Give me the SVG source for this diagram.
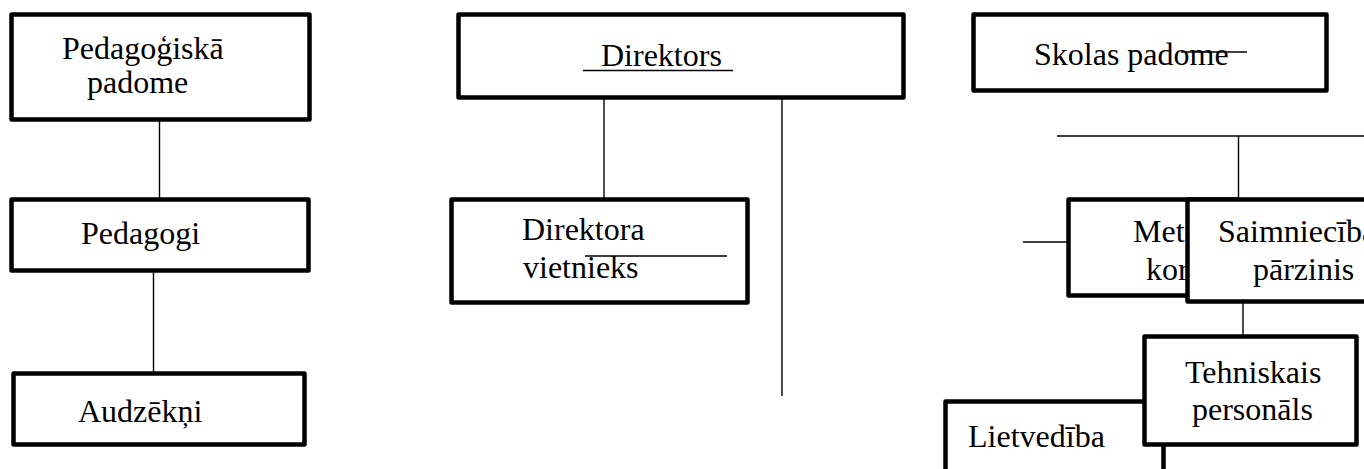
<svg xmlns="http://www.w3.org/2000/svg" width="1364" height="469" viewBox="0 0 1364 469">
<style>
.box{fill:#fff;stroke:#000;stroke-width:4.5;stroke-linejoin:round}
.ln{stroke:#000;stroke-width:1.4;fill:none}
text{font-family:"Liberation Serif","Times New Roman",serif;font-size:32px;fill:#000}
</style>
<rect width="1364" height="469" fill="#fff"/>
<g id="connectors">
<line class="ln" x1="159.5" y1="121" x2="159.5" y2="198"/>
<line class="ln" x1="153.5" y1="271" x2="153.5" y2="372"/>
<line class="ln" x1="604" y1="98" x2="604" y2="198"/>
<line class="ln" x1="782" y1="98" x2="782" y2="396"/>
<line class="ln" x1="1057" y1="136" x2="1364" y2="136"/>
<line class="ln" x1="1238.5" y1="136" x2="1238.5" y2="198"/>
<line class="ln" x1="1023" y1="242" x2="1068" y2="242"/>
<line class="ln" x1="1243" y1="302" x2="1243" y2="336"/>
</g>
<g id="n-pedagogiska">
<rect class="box" x="11.5" y="14.5" width="298" height="105"/>
<text x="62" y="59">Pedagoģiskā</text>
<text x="87" y="93">padome</text>
</g>
<g id="n-pedagogi">
<rect class="box" x="11.5" y="199.5" width="297" height="71"/>
<text x="81" y="244">Pedagogi</text>
</g>
<g id="n-audzekni">
<rect class="box" x="13.5" y="373.5" width="291" height="71"/>
<text x="78" y="422">Audzēkņi</text>
</g>
<g id="n-direktors">
<rect class="box" x="458.5" y="14.5" width="445" height="83"/>
<text x="601" y="66">Direktors</text>
<line class="ln" x1="583" y1="70.5" x2="733" y2="70.5"/>
</g>
<g id="n-vietnieks">
<rect class="box" x="451.5" y="199.5" width="296" height="103"/>
<text x="522" y="240">Direktora</text>
<text x="523" y="278">vietnieks</text>
<line class="ln" x1="585" y1="256" x2="727" y2="256"/>
</g>
<g id="n-skolas">
<rect class="box" x="973.5" y="14.5" width="353" height="76"/>
<text x="1034" y="65">Skolas padome</text>
<line class="ln" x1="1181" y1="52" x2="1247" y2="52"/>
</g>
<g id="n-metodiska">
<rect class="box" x="1068.5" y="199.5" width="170" height="96"/>
<text x="1133" y="242">Met</text>
<text x="1146" y="280">kor</text>
</g>
<g id="n-saimniecibas">
<rect class="box" x="1187.5" y="199.5" width="200" height="102"/>
<text x="1218" y="242">Saimniecība</text>
<text x="1253" y="280">pārzinis</text>
</g>
<g id="n-lietvediba">
<rect class="box" x="945.5" y="401.5" width="218" height="100"/>
<text x="968" y="447">Lietvedība</text>
</g>
<g id="n-tehniskais">
<rect class="box" x="1144.5" y="336.5" width="212" height="108"/>
<text x="1185" y="383">Tehniskais</text>
<text x="1192" y="420">personāls</text>
</g>
</svg>
